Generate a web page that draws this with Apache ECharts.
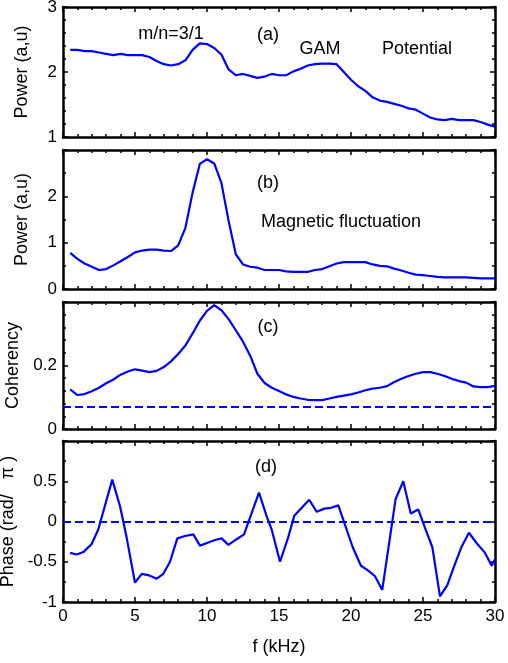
<!DOCTYPE html>
<html>
<head>
<meta charset="utf-8">
<script src="https://cdn.jsdelivr.net/npm/echarts@6/dist/echarts.min.js"></script>
<style>
  html, body { margin: 0; padding: 0; background: #fff; }
  #chart { width: 508px; height: 663px; }
</style>
</head>
<body>
<div id="chart"></div>
<script>
// frequency samples (kHz) for panels a-c
const freq = [0.5, 1, 1.5, 2, 2.5, 3, 3.5, 4, 4.5, 5, 5.5, 6, 6.5, 7, 7.5, 8, 8.5, 9, 9.5, 10,
    10.5, 11, 11.5, 12, 12.5, 13, 13.5, 14, 14.5, 15, 15.5, 16, 16.5, 17, 17.5, 18, 18.5, 19, 19.5, 20,
    20.5, 21, 21.5, 22, 22.5, 23, 23.5, 24, 24.5, 25, 25.5, 26, 26.5, 27, 27.5, 28, 28.5, 29, 29.5, 30];

// (a) potential power
const powerPotential = [2.34, 2.34, 2.32, 2.32, 2.30, 2.28, 2.26, 2.28, 2.26, 2.26, 2.26, 2.23, 2.17, 2.12, 2.10, 2.12, 2.18, 2.34, 2.44, 2.43,
    2.37, 2.27, 2.04, 1.95, 1.97, 1.94, 1.91, 1.93, 1.97, 1.95, 1.95, 2.01, 2.05, 2.10, 2.12, 2.13, 2.13, 2.12, 2.00, 1.88,
    1.78, 1.71, 1.61, 1.56, 1.54, 1.51, 1.48, 1.44, 1.42, 1.36, 1.30, 1.27, 1.26, 1.28, 1.26, 1.26, 1.26, 1.23, 1.19, 1.16];

// (b) magnetic fluctuation power
const powerMagnetic = [0.78, 0.65, 0.55, 0.48, 0.41, 0.43, 0.51, 0.60, 0.69, 0.79, 0.83, 0.85, 0.85, 0.83, 0.82, 0.94, 1.32, 2.08, 2.70, 2.80,
    2.71, 2.29, 1.47, 0.75, 0.53, 0.48, 0.46, 0.41, 0.41, 0.41, 0.38, 0.37, 0.37, 0.37, 0.41, 0.43, 0.49, 0.55, 0.58, 0.58,
    0.58, 0.58, 0.53, 0.50, 0.49, 0.44, 0.40, 0.35, 0.31, 0.30, 0.28, 0.26, 0.25, 0.25, 0.25, 0.25, 0.24, 0.23, 0.23, 0.23];

// (c) coherency
const coherency = [0.125, 0.107, 0.110, 0.119, 0.130, 0.144, 0.156, 0.171, 0.181, 0.188, 0.184, 0.179, 0.183, 0.195, 0.213, 0.236, 0.263, 0.301, 0.341, 0.372,
    0.390, 0.374, 0.346, 0.311, 0.275, 0.231, 0.174, 0.145, 0.130, 0.120, 0.109, 0.101, 0.096, 0.092, 0.091, 0.091, 0.096, 0.101, 0.105, 0.109,
    0.115, 0.122, 0.127, 0.130, 0.135, 0.148, 0.158, 0.167, 0.174, 0.179, 0.179, 0.174, 0.167, 0.158, 0.151, 0.146, 0.134, 0.132, 0.132, 0.136];
const coherencyLevel = 0.072;

// (d) phase
const phaseFreq = [0.49, 0.95, 1.41, 1.99, 2.45, 3.42, 3.96, 4.42, 5.0, 5.47, 5.99, 6.51, 6.97, 7.43, 7.94, 8.47, 9.05, 9.51, 10.09, 10.56,
    11.02, 11.48, 12.06, 12.57, 13.61, 14.15, 14.49, 15.07, 15.6, 16.06, 16.58, 17.1, 17.62, 18.15, 18.61, 19.12, 20.12, 20.69, 21.2, 21.67,
    22.17, 23.1, 23.63, 24.15, 24.67, 25.14, 25.65, 26.18, 26.69, 27.17, 27.69, 28.19, 28.73, 29.31, 29.77, 30];
const phase = [-0.39, -0.41, -0.38, -0.28, -0.10, 0.52, 0.19, -0.20, -0.76, -0.65, -0.67, -0.71, -0.65, -0.50, -0.21, -0.18, -0.16, -0.30, -0.26, -0.23,
    -0.21, -0.29, -0.22, -0.16, 0.36, 0.06, -0.10, -0.50, -0.22, 0.07, 0.17, 0.27, 0.12, 0.16, 0.17, 0.20, -0.32, -0.55, -0.61, -0.68,
    -0.85, 0.28, 0.50, 0.10, 0.15, -0.08, -0.32, -0.93, -0.79, -0.55, -0.31, -0.14, -0.27, -0.39, -0.55, -0.47];
const phaseLevel = 0;

const xTicks = { min: 0, max: 30, interval: 5 };

const panels = [
    { top: 7, height: 130, min: 1, max: 3, interval: 1, minor: 5, name: 'Power (a,u)', hideMax: false },
    { top: 150, height: 139, min: 0, max: 3, interval: 1, minor: 2, name: 'Power (a,u)', hideMax: true },
    { top: 302, height: 127, min: 0, max: 0.4, interval: 0.2, minor: 5, name: 'Coherency', hideMax: true },
    { top: 441, height: 161, min: -1, max: 1, interval: 0.5, minor: 2, name: 'Phase (rad/   \u03c0 )', hideMax: true }
];

const font = 'Liberation Sans, Arial, sans-serif';
const blue = '#0000ff';

const frame = { show: true, onZero: false, lineStyle: { color: '#000', width: 2.5 } };
const tick = { show: true, inside: true, length: 5, lineStyle: { color: '#000', width: 1.5 } };

const grids = [], xAxes = [], yAxes = [];
panels.forEach(function (p, i) {
    grids.push({ left: 63, right: 13, top: p.top, height: p.height, outerBoundsMode: 'none', containLabel: false });
    const last = i === panels.length - 1;
    const xBase = {
        gridIndex: i, type: 'value', min: xTicks.min, max: xTicks.max, interval: xTicks.interval,
        axisLine: frame, axisTick: tick, splitLine: { show: false },
        minorTick: { show: true, splitNumber: 5, length: 3, lineStyle: { color: '#000', width: 1.5 } }
    };
    xAxes.push(Object.assign({}, xBase, {
        position: 'bottom',
        axisLabel: { show: last, color: '#000', fontSize: 17, fontFamily: font, margin: 6 },
        name: last ? 'f (kHz)' : '', nameLocation: 'middle', nameGap: 36,
        nameTextStyle: { color: '#000', fontSize: 18, fontFamily: font }
    }));
    xAxes.push(Object.assign({}, xBase, { position: 'top', axisLabel: { show: false } }));
    const yBase = {
        gridIndex: i, type: 'value', min: p.min, max: p.max, interval: p.interval,
        axisLine: frame, axisTick: tick, splitLine: { show: false },
        minorTick: { show: true, splitNumber: p.minor, length: 3, lineStyle: { color: '#000', width: 1.5 } }
    };
    yAxes.push(Object.assign({}, yBase, {
        position: 'left',
        axisLabel: { color: '#000', fontSize: 17, fontFamily: font, margin: 6, showMaxLabel: !p.hideMax },
        name: p.name, nameLocation: 'middle', nameGap: 32,
        nameTextStyle: { color: '#000', fontSize: 18, fontFamily: font }
    }));
    yAxes.push(Object.assign({}, yBase, { position: 'right', axisLabel: { show: false } }));
});

function pairs(xs, ys) {
    return xs.map(function (x, i) { return [x, ys[i]]; });
}

function lineSeries(idx, data, level) {
    const s = {
        type: 'line', xAxisIndex: idx * 2, yAxisIndex: idx * 2, data: data,
        showSymbol: false, silent: true, animation: false,
        lineStyle: { color: blue, width: 2.2 }
    };
    if (level !== undefined) {
        s.markLine = {
            silent: true, symbol: 'none', label: { show: false },
            lineStyle: { color: blue, width: 2.2, type: [8, 4] },
            data: [{ yAxis: level }]
        };
    }
    return s;
}

const labels = [
    { text: 'm/n=3/1', x: 171, y: 34 },
    { text: '(a)', x: 268, y: 35 },
    { text: 'GAM', x: 320, y: 49 },
    { text: 'Potential', x: 417, y: 49 },
    { text: '(b)', x: 268, y: 183 },
    { text: 'Magnetic fluctuation', x: 341, y: 222 },
    { text: '(c)', x: 268, y: 327 },
    { text: '(d)', x: 266, y: 467 }
];

const chart = echarts.init(document.getElementById('chart'));
chart.setOption({
    animation: false,
    backgroundColor: '#fff',
    grid: grids,
    xAxis: xAxes,
    yAxis: yAxes,
    graphic: labels.map(function (l) {
        return {
            type: 'text', x: l.x, y: l.y, silent: true,
            style: { text: l.text, fill: '#000', fontSize: 18, fontFamily: font, align: 'center', verticalAlign: 'middle' }
        };
    }),
    series: [
        lineSeries(0, pairs(freq, powerPotential)),
        lineSeries(1, pairs(freq, powerMagnetic)),
        lineSeries(2, pairs(freq, coherency), coherencyLevel),
        lineSeries(3, pairs(phaseFreq, phase), phaseLevel)
    ]
});
</script>
</body>
</html>
